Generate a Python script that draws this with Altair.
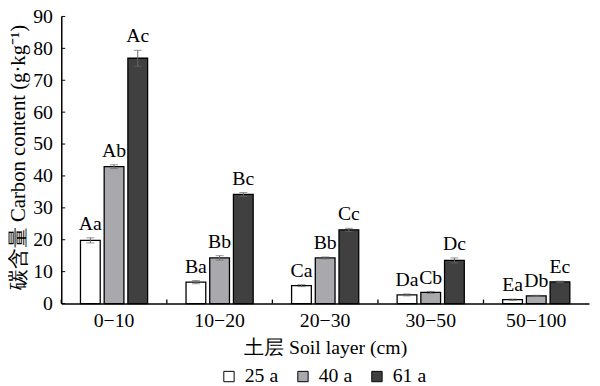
import altair as alt
import pandas as pd

layers = ["0−10", "10−20", "20−30", "30−50", "50−100"]
ages = ["25 a", "40 a", "61 a"]
values25 = [19.8, 6.7, 5.6, 2.7, 1.2]
values40 = [42.9, 14.3, 14.3, 3.5, 2.4]
values61 = [76.9, 34.2, 23.1, 13.5, 6.8]
err25 = [0.8, 0.5, 0.3, 0.3, 0.2]
err40 = [0.6, 0.7, 0.3, 0.3, 0.2]
err61 = [2.5, 0.6, 0.5, 0.8, 0.2]
labels25 = ["Aa", "Ba", "Ca", "Da", "Ea"]
labels40 = ["Ab", "Bb", "Bb", "Cb", "Db"]
labels61 = ["Ac", "Bc", "Cc", "Dc", "Ec"]
colors = ["#ffffff", "#a9a8ad", "#404040"]
yticks = [0, 10, 20, 30, 40, 50, 60, 70, 80, 90]

rows = []
for age, vals, errs, labs in zip(ages, [values25, values40, values61],
                                 [err25, err40, err61],
                                 [labels25, labels40, labels61]):
    for lay, v, e, l in zip(layers, vals, errs, labs):
        rows.append({"layer": lay, "age": age, "value": v,
                     "lo": v - e, "hi": v + e, "label": l})
df = pd.DataFrame(rows)

FONT = "Times New Roman, Liberation Serif, serif"
FS = 20
W, H = 535, 291

xscale = alt.Scale(paddingInner=0, paddingOuter=0)
xoff = alt.XOffset("age:N", sort=ages,
                   scale=alt.Scale(paddingInner=0.167, paddingOuter=0.81))
yscale = alt.Scale(domain=[0, 90], nice=False, zero=True)

base = alt.Chart(df)

bars = base.mark_bar(stroke="black", strokeWidth=1.3).encode(
    x=alt.X("layer:N", sort=layers, scale=xscale,
            axis=alt.Axis(title="土层 Soil layer (cm)", labelAngle=0,
                          tickSize=0, labelPadding=7,
                          titleY=45, titleBaseline="middle")),
    xOffset=xoff,
    y=alt.Y("value:Q", scale=yscale,
            axis=alt.Axis(title="碳含量 Carbon content (g·kg⁻¹)", values=yticks,
                          tickSize=0, labelPadding=9, grid=False,
                          labelOverlap=False, labelFlush=False,
                          titleFontSize=21,
                          titleX=-43, titleY=H / 2 - 3, titleAngle=-90,
                          titleAlign="center", titleBaseline="middle")),
    color=alt.Color("age:N", sort=ages,
                    scale=alt.Scale(domain=ages, range=colors),
                    legend=alt.Legend(title=None, orient="none", direction="horizontal",
                                      legendX=160, legendY=355,
                                      symbolType="square", symbolSize=110,
                                      symbolStrokeColor="black", symbolStrokeWidth=1,
                                      symbolOpacity=1,
                                      labelFont=FONT, labelFontSize=FS,
                                      labelColor="black", columnPadding=15,
                                      labelOffset=6)),
)

xn = alt.X("layer:N", sort=layers, scale=xscale, axis=None)

errs = base.mark_rule(color="#666666", strokeWidth=1).encode(
    x=xn, xOffset=xoff,
    y=alt.Y("lo:Q", scale=yscale, axis=None),
    y2="hi:Q",
)
caps_hi = base.mark_tick(color="#666666", orient="horizontal", size=8,
                         thickness=1).encode(
    x=xn, xOffset=xoff,
    y=alt.Y("hi:Q", scale=yscale, axis=None),
)
caps_lo = base.mark_tick(color="#666666", orient="horizontal", size=8,
                         thickness=1).encode(
    x=xn, xOffset=xoff,
    y=alt.Y("lo:Q", scale=yscale, axis=None),
)
texts = base.mark_text(font=FONT, fontSize=FS, baseline="bottom", dy=-4,
                       color="black").encode(
    x=xn, xOffset=xoff,
    y=alt.Y("hi:Q", scale=yscale, axis=None),
    text="label:N",
)

ytick_df = pd.DataFrame({"v": yticks})
yt = alt.Chart(ytick_df).mark_rule(color="black", strokeWidth=1).encode(
    y=alt.Y("v:Q", scale=yscale, axis=None),
    x=alt.value(0), x2=alt.value(4),
)
xtick_df = pd.DataFrame({"layer": layers})
xt = alt.Chart(xtick_df).mark_rule(color="black", strokeWidth=1.3).encode(
    x=alt.X("layer:N", sort=layers, scale=xscale, bandPosition=0, axis=None),
    y=alt.value(H), y2=alt.value(H - 4),
)

chart = alt.layer(bars, errs, caps_hi, caps_lo, texts, yt, xt).resolve_axis(
    x="independent", y="independent"
).properties(
    width=W, height=H,
    autosize=alt.AutoSizeParams(type="none"),
    padding={"left": 54, "top": 6, "right": 3, "bottom": 80},
).configure_view(stroke=None).configure_axis(
    labelFont=FONT, labelFontSize=FS, labelColor="black",
    titleFont=FONT, titleFontSize=FS, titleColor="black", titleFontWeight="normal",
    domainColor="black", domainWidth=1.5,
)

chart.save("out.html", embed_options={"renderer": "svg", "actions": False})
